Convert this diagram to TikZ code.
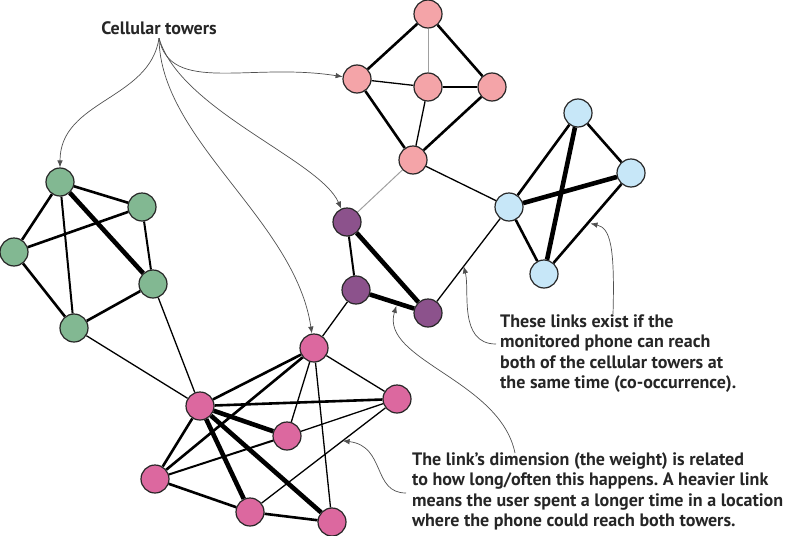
\documentclass[tikz,border=0pt]{standalone}
\usepackage{fontspec}
\setmainfont{PT Sans}
\usetikzlibrary{arrows.meta,calc}
\frenchspacing

\definecolor{towerpink}{HTML}{F4A4A8}
\definecolor{towergreen}{HTML}{82B892}
\definecolor{towermagenta}{HTML}{DC689F}
\definecolor{towerpurple}{HTML}{8C528C}
\definecolor{towerblue}{HTML}{C7E7F8}
\definecolor{linkgray}{HTML}{A0A0A0}
\definecolor{notegray}{HTML}{505050}

\begin{document}
\begin{tikzpicture}[x=1pt,y=-1pt,
  tower/.style={circle,draw=black!85,line width=1.2pt,minimum size=28pt,inner sep=0pt},
  link/.style={line width=1.3pt},
  mid/.style={line width=2pt},
  heavy/.style={line width=2.6pt},
  heavier/.style={line width=4.6pt},
  faint/.style={line width=1pt,draw=linkgray},
  note/.style={font=\bfseries\fontsize{18}{20.5}\selectfont,align=left,inner sep=0pt,anchor=north west,text=black!85},
  pointer/.style={draw=notegray,line width=0.7pt,-{Latex[length=7pt,width=5.5pt]}}]

\useasboundingbox (0,0) rectangle (791,535);

% Pink towers - top
\node[tower,fill=towerpink] (p1) at (428,14) {};
\node[tower,fill=towerpink] (p2) at (357,79) {};
\node[tower,fill=towerpink] (p3) at (428,87) {};
\node[tower,fill=towerpink] (p4) at (492,87) {};
\node[tower,fill=towerpink] (p5) at (413,160) {};

% Green towers - left
\node[tower,fill=towergreen] (g1) at (60,182) {};
\node[tower,fill=towergreen] (g2) at (142,207) {};
\node[tower,fill=towergreen] (g3) at (14,252) {};
\node[tower,fill=towergreen] (g4) at (153,284) {};
\node[tower,fill=towergreen] (g5) at (74,328) {};

% Purple towers - middle
\node[tower,fill=towerpurple] (v1) at (347,222) {};
\node[tower,fill=towerpurple] (v2) at (356,290) {};
\node[tower,fill=towerpurple] (v3) at (428,313) {};

% Blue towers - right
\node[tower,fill=towerblue] (b1) at (509,207) {};
\node[tower,fill=towerblue] (b2) at (578,113) {};
\node[tower,fill=towerblue] (b3) at (631,173) {};
\node[tower,fill=towerblue] (b4) at (544,274) {};

% Magenta towers - bottom
\node[tower,fill=towermagenta] (m1) at (314,348) {};
\node[tower,fill=towermagenta] (m2) at (200,406) {};
\node[tower,fill=towermagenta] (m3) at (397,399) {};
\node[tower,fill=towermagenta] (m4) at (287,436) {};
\node[tower,fill=towermagenta] (m5) at (155,479) {};
\node[tower,fill=towermagenta] (m6) at (250,512) {};
\node[tower,fill=towermagenta] (m7) at (332,522) {};

% Pink links
\draw[heavy] (p1) -- (p2);
\draw[heavy] (p1) -- (p4);
\draw[faint] (p1) -- (p3);
\draw[link] (p2) -- (p3);
\draw[link] (p3) -- (p4);
\draw[heavy] (p2) -- (p5);
\draw[link] (p3) -- (p5);
\draw[heavy] (p4) -- (p5);

% Green links
\draw[heavy] (g1) -- (g2);
\draw[heavy] (g1) -- (g3);
\draw[mid] (g1) -- (g5);
\draw[heavier] (g1) -- (g4);
\draw[heavy] (g2) -- (g3);
\draw[mid] (g2) -- (g4);
\draw[heavy] (g3) -- (g5);
\draw[heavy] (g4) -- (g5);

% Purple links
\draw[mid] (v1) -- (v2);
\draw[heavier] (v1) -- (v3);
\draw[heavier] (v2) -- (v3);

% Blue links
\draw[heavy] (b1) -- (b2);
\draw[heavier] (b1) -- (b3);
\draw[heavy] (b1) -- (b4);
\draw[heavy] (b2) -- (b3);
\draw[heavier] (b2) -- (b4);
\draw[heavy] (b3) -- (b4);

% Magenta links
\draw[heavy] (m1) -- (m2);
\draw[heavy] (m1) -- (m5);
\draw[link] (m1) -- (m3);
\draw[link] (m1) -- (m4);
\draw[link] (m1) -- (m7);
\draw[heavy] (m2) -- (m3);
\draw[heavier] (m2) -- (m4);
\draw[heavy] (m2) -- (m5);
\draw[heavier] (m2) -- (m6);
\draw[heavier] (m2) -- (m7);
\draw[link] (m4) -- (m3);
\draw[mid] (m4) -- (m5);
\draw[heavy] (m5) -- (m6);
\draw[heavy] (m6) -- (m7);
\draw[link] (m6) -- (m3);

% Links between groups
\draw[faint] (p5) -- (v1);
\draw[link] (p5) -- (b1);
\draw[link] (v3) -- (b1);
\draw[link] (v2) -- (m1);
\draw[link] (g4) -- (m2);
\draw[link] (g5) -- (m2);

% Labels
\node[font=\bfseries\fontsize{18}{20}\selectfont,text=black!85] (towers) at (159,28) {Cellular towers};
\node[note] (linksnote) at (500,314) {These links exist if the\\monitored phone can reach\\both of the cellular towers at\\the same time (co-occurrence).};
\node[note] (weightnote) at (412,452) {The link’s dimension (the weight) is related\\to how long/often this happens. A heavier link\\means the user spent a longer time in a location\\where the phone could reach both towers.};

% Pointer ends
\coordinate (vbmid) at ($(v3)!0.44!(b1)$);
\coordinate (bbmid) at ($(b3)!0.5!(b4)+(3,0)$);
\coordinate (vvmid) at ($(v2)!0.56!(v3)+(0,3)$);
\coordinate (mmmid) at ($(m3)!0.37!(m6)$);
\coordinate (linksfoot) at (496,344);
\coordinate (linkstop) at (613,314);
\coordinate (weighttop) at (515,453);
\coordinate (weightfoot) at (406,493);

% Pointers from the labels
\draw[pointer] (towers.south) .. controls (150,100) and (60,100) .. (g1);
\draw[pointer] (towers.south) .. controls (170,95) and (250,62) .. (p2);
\draw[pointer] (towers.south) .. controls (180,110) and (320,160) .. (v1);
\draw[pointer] (towers.south) .. controls (160,140) and (295,220) .. (m1);
\draw[pointer] (linksfoot) .. controls (458,344) and (470,290) .. (vbmid);
\draw[pointer] (linkstop) .. controls (615,245) and (610,228) .. (bbmid);
\draw[pointer] (weighttop) .. controls (500,380) and (380,360) .. (vvmid);
\draw[pointer] (weightfoot) .. controls (372,493) and (386,446) .. (mmmid);

\end{tikzpicture}
\end{document}
